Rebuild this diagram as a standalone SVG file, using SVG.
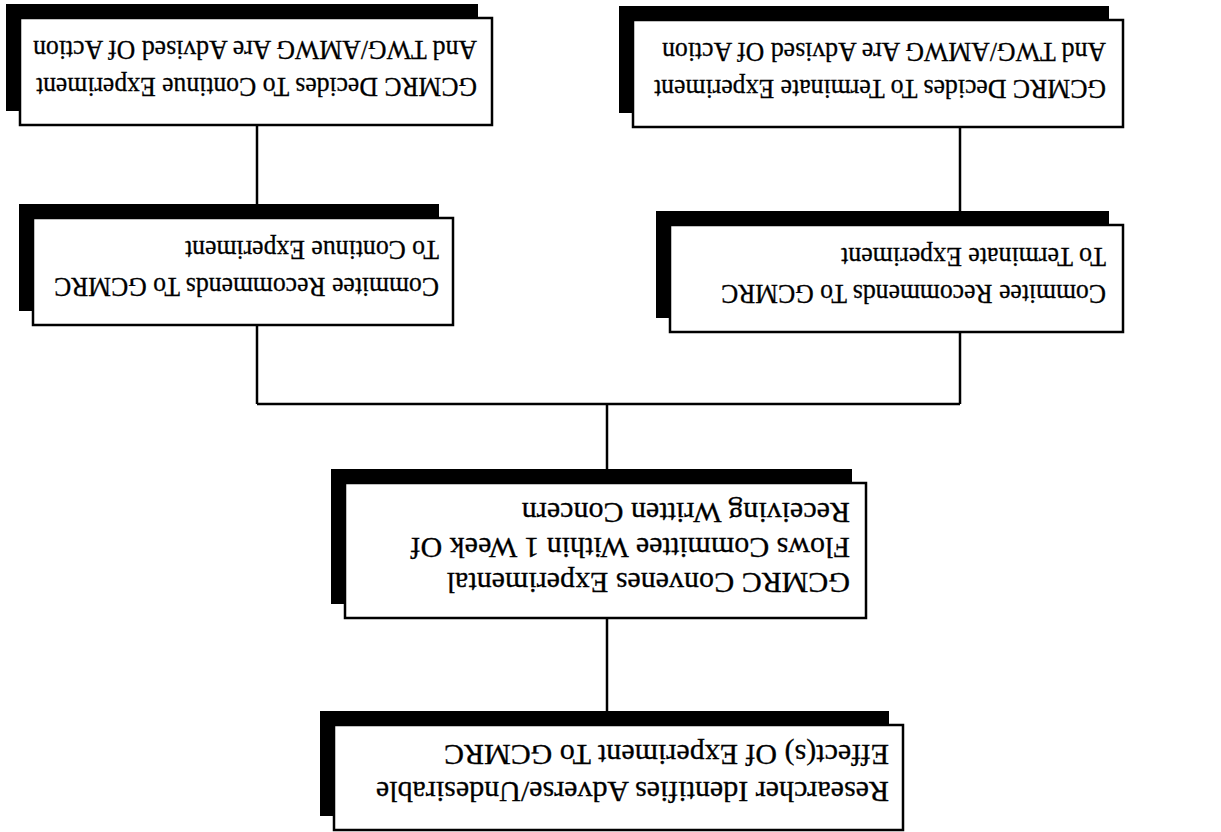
<svg xmlns="http://www.w3.org/2000/svg" width="1221" height="832" viewBox="0 0 1221 832">
<style>
.shadow{fill:#000}
.box{fill:#fff;stroke:#000;stroke-width:2.5}
.t{font-family:"Liberation Serif","Times New Roman",serif;font-size:27px;fill:#000;stroke:#000;stroke-width:0.3}
.tb{font-family:"Liberation Serif","Times New Roman",serif;font-size:30px;fill:#000;stroke:#000;stroke-width:0.3}
.conn{stroke:#000;stroke-width:2.5;fill:none}
</style>
<rect x="0" y="0" width="1221" height="832" fill="#fff"/>
<g transform="rotate(180 610.5 416)">
  <g id="connectors">
    <line class="conn" x1="614" y1="107" x2="614" y2="214"/>
    <line class="conn" x1="614" y1="349" x2="614" y2="428"/>
    <line class="conn" x1="261" y1="428" x2="964" y2="428"/>
    <line class="conn" x1="964" y1="428" x2="964" y2="507"/>
    <line class="conn" x1="261" y1="428" x2="261" y2="500"/>
    <line class="conn" x1="964" y1="614" x2="964" y2="707"/>
    <line class="conn" x1="261" y1="607" x2="261" y2="705"/>
  </g>
  <g id="node-researcher">
    <rect class="shadow" x="332" y="16" width="569" height="105"/>
    <rect class="box" x="318" y="2" width="569" height="105"/>
    <text class="tb" x="332" y="50">Researcher Identifies Adverse/Undesirable</text>
    <text class="tb" x="332" y="87">Effect(s) Of Experiment To GCMRC</text>
  </g>
  <g id="node-convenes">
    <rect class="shadow" x="369" y="228" width="521" height="135"/>
    <rect class="box" x="355" y="214" width="521" height="135"/>
    <text class="tb" x="371" y="259">GCMRC Convenes Experimental</text>
    <text class="tb" x="371" y="294">Flows Committee Within 1 Week Of</text>
    <text class="tb" x="371" y="329">Receiving Written Concern</text>
  </g>
  <g id="node-recommend-terminate">
    <rect class="shadow" x="112" y="514" width="453" height="107"/>
    <rect class="box" x="98" y="500" width="453" height="107"/>
    <text class="t" x="115" y="547" textLength="385" lengthAdjust="spacingAndGlyphs">Commitee Recommends To GCMRC</text>
    <text class="t" x="115" y="584" textLength="265" lengthAdjust="spacingAndGlyphs">To Terminate Experiment</text>
  </g>
  <g id="node-recommend-continue">
    <rect class="shadow" x="782" y="521" width="420" height="107"/>
    <rect class="box" x="768" y="507" width="420" height="107"/>
    <text class="t" x="782" y="554" textLength="385" lengthAdjust="spacingAndGlyphs">Commitee Recommends To GCMRC</text>
    <text class="t" x="782" y="591" textLength="254" lengthAdjust="spacingAndGlyphs">To Continue Experiment</text>
  </g>
  <g id="node-decide-terminate">
    <rect class="shadow" x="112" y="719" width="490" height="107"/>
    <rect class="box" x="98" y="705" width="490" height="107"/>
    <text class="t" x="115" y="752" textLength="452" lengthAdjust="spacingAndGlyphs">GCMRC Decides To Terminate Experiment</text>
    <text class="t" x="115" y="789" textLength="444" lengthAdjust="spacingAndGlyphs">And TWG/AMWG Are Advised Of Action</text>
  </g>
  <g id="node-decide-continue">
    <rect class="shadow" x="743" y="721" width="472" height="107"/>
    <rect class="box" x="729" y="707" width="472" height="107"/>
    <text class="t" x="744" y="754" textLength="441" lengthAdjust="spacingAndGlyphs">GCMRC Decides To Continue Experiment</text>
    <text class="t" x="744" y="791" textLength="444" lengthAdjust="spacingAndGlyphs">And TWG/AMWG Are Advised Of Action</text>
  </g>
</g>
</svg>
